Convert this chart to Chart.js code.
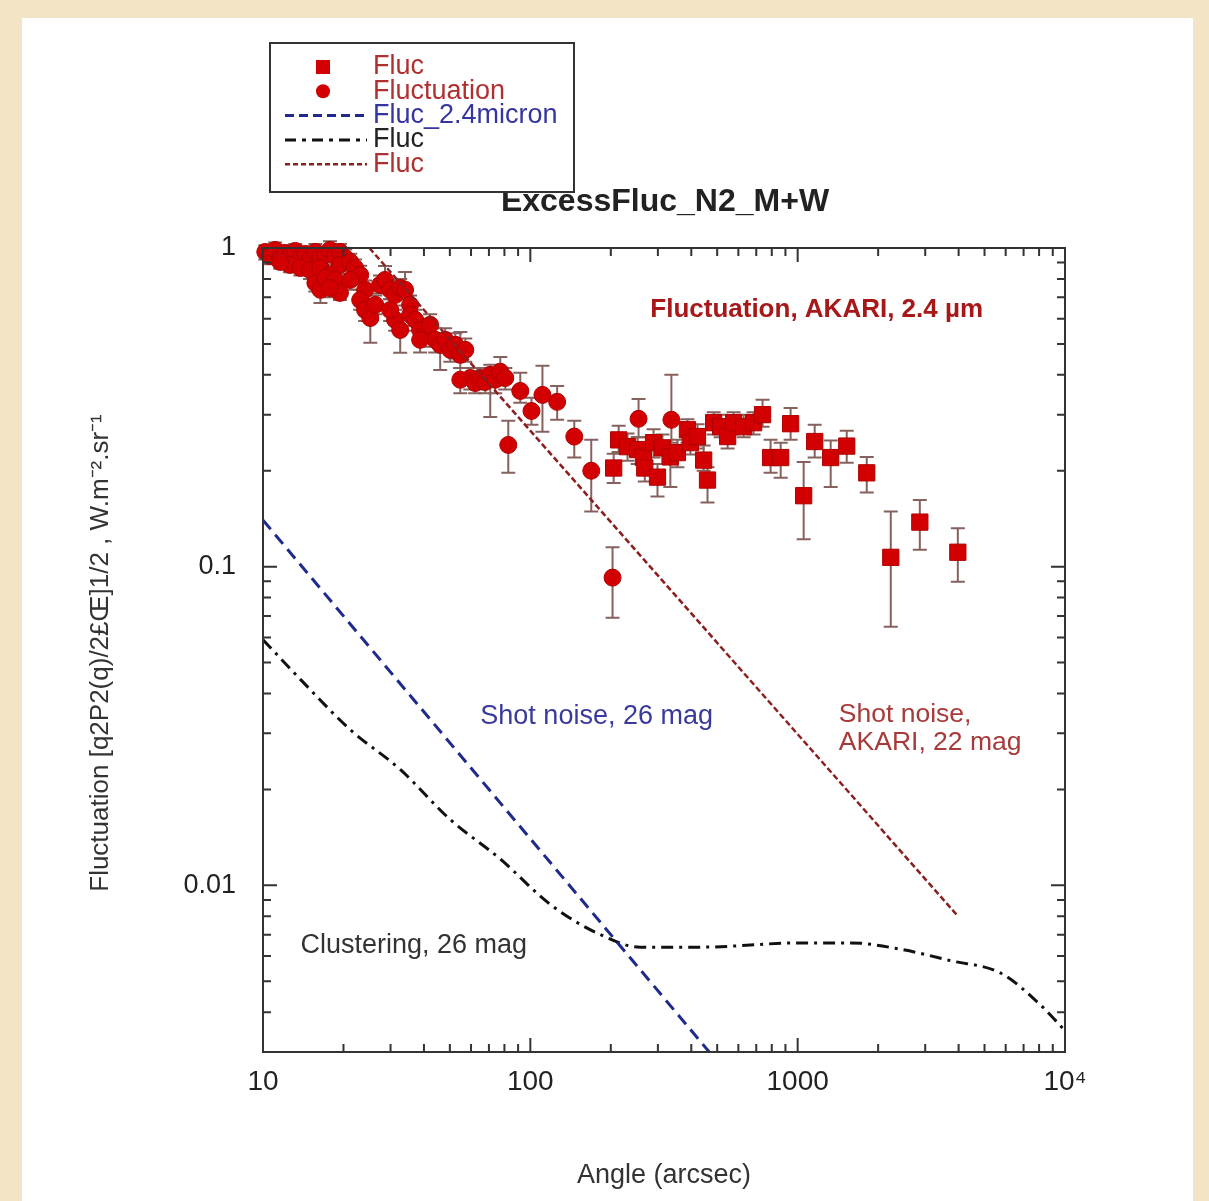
<!DOCTYPE html>
<html>
<head>
<meta charset="utf-8">
<title>ExcessFluc_N2_M+W</title>
<script src="https://cdn.jsdelivr.net/npm/chart.js@4.4.0/dist/chart.umd.min.js"></script>
<style>
  html, body { margin: 0; padding: 0; background: #f4e4c6; }
  #wrap { position: absolute; left: 22px; top: 18px; width: 1171px; height: 1183px; background: #fff; }
</style>
</head>
<body>
<div id="wrap"><canvas id="chart" width="1171" height="1183"></canvas></div>
<script>
// tick positions (log axes)
const xTicks = [10, 20, 30, 40, 50, 60, 70, 80, 90,
    100, 200, 300, 400, 500, 600, 700, 800, 900,
    1000, 2000, 3000, 4000, 5000, 6000, 7000, 8000, 9000, 10000];
const xMajor = [10, 100, 1000, 10000];
const xLabels = ['10', '100', '1000', '10\u2074'];
const yTicks = [0.003, 0.004, 0.005, 0.006, 0.007, 0.008, 0.009,
    0.01, 0.02, 0.03, 0.04, 0.05, 0.06, 0.07, 0.08, 0.09,
    0.1, 0.2, 0.3, 0.4, 0.5, 0.6, 0.7, 0.8, 0.9, 1];
const yMajor = [0.01, 0.1, 1];
const yLabels = ['0.01', '0.1', '1'];

// "Fluctuation" (circles)
const circX = [10.2, 10.6, 11.1, 11.6, 12.1, 12.6, 13.2, 13.8, 14.4, 15.0, 15.7, 16.4, 17.1, 17.8, 18.6, 19.4, 20.3,
    12.6, 13.8, 15.0, 16.4, 17.8, 11.6, 19.4,
    15.7, 16.4, 17.1, 18.6, 19.4, 17.8,
    21.2, 22.1, 23.1, 21.2, 24.1, 23.1, 24.1, 25.2, 26.3,
    27.4, 28.6, 29.9, 31.2, 32.6, 34.0, 31.2, 32.6, 29.9, 35.5,
    35.5, 37.1, 38.7, 40.4, 42.2, 44.1, 46.0, 38.7,
    48.0, 50.2, 52.4, 54.7, 57.1, 59.6, 54.7,
    62.2, 65.0, 67.8, 70.8, 73.9, 77.2, 80.6,
    82.7, 91.7, 101, 111, 126, 146, 169, 203, 254, 337];
const circY = [0.972, 0.944, 0.986, 0.930, 0.965, 0.944, 0.979, 0.930, 0.958, 0.917, 0.972, 0.937, 0.951, 0.986, 0.944, 0.972, 0.930,
    0.885, 0.866, 0.853, 0.866, 0.823, 0.904, 0.885,
    0.777, 0.739, 0.805, 0.794, 0.723, 0.749,
    0.904, 0.866, 0.823, 0.794, 0.739, 0.687, 0.639, 0.603, 0.663,
    0.766, 0.794, 0.739, 0.712, 0.749, 0.739, 0.595, 0.553, 0.639, 0.663,
    0.617, 0.595, 0.553, 0.533, 0.574, 0.515, 0.497, 0.515,
    0.515, 0.479, 0.497, 0.462, 0.479, 0.391, 0.386,
    0.377, 0.391, 0.380, 0.400, 0.386, 0.409, 0.391,
    0.241, 0.356, 0.308, 0.346, 0.329, 0.256, 0.200, 0.0924, 0.291, 0.289];
const circLo = [0.92, 0.89, 0.93, 0.88, 0.91, 0.89, 0.92, 0.87, 0.90, 0.86, 0.91, 0.88, 0.89, 0.92, 0.88, 0.91, 0.87,
    0.84, 0.82, 0.80, 0.81, 0.77, 0.86, 0.83,
    0.73, 0.672, 0.75, 0.74, 0.687, 0.70,
    0.85, 0.81, 0.77, 0.74, 0.69, 0.64, 0.59, 0.504, 0.62,
    0.72, 0.74, 0.69, 0.66, 0.70, 0.69, 0.55, 0.469, 0.59, 0.62,
    0.57, 0.55, 0.51, 0.49, 0.53, 0.47, 0.414, 0.47,
    0.47, 0.44, 0.45, 0.42, 0.44, 0.36, 0.35,
    0.35, 0.36, 0.35, 0.295, 0.35, 0.37, 0.36,
    0.197, 0.327, 0.279, 0.265, 0.289, 0.220, 0.149, 0.0692, 0.255, 0.245];
const circHi = [1.02, 1.0, 1.04, 0.98, 1.02, 1.0, 1.03, 0.98, 1.01, 0.97, 1.03, 0.99, 1.01, 1.05, 1.0, 1.03, 0.99,
    0.93, 0.91, 0.90, 0.92, 0.87, 0.95, 0.94,
    0.83, 0.80, 0.86, 0.85, 0.77, 0.80,
    0.96, 0.92, 0.88, 0.85, 0.79, 0.74, 0.69, 0.66, 0.71,
    0.82, 0.878, 0.79, 0.76, 0.80, 0.841, 0.64, 0.60, 0.69, 0.71,
    0.66, 0.64, 0.60, 0.58, 0.62, 0.56, 0.54, 0.56,
    0.56, 0.52, 0.54, 0.545, 0.52, 0.42, 0.42,
    0.41, 0.42, 0.41, 0.43, 0.42, 0.455, 0.42,
    0.287, 0.406, 0.339, 0.427, 0.369, 0.287, 0.250, 0.115, 0.336, 0.400];

// "Fluc" (squares)
const sqX = [205, 214, 231, 252, 265, 268, 289, 299, 312, 334, 355, 387, 397, 422, 445, 460, 485, 515, 547, 576,
    628, 684, 739, 792, 864, 941, 1053, 1158, 1329, 1526, 1813, 2230, 2864, 3973];
const sqY = [0.204, 0.250, 0.238, 0.233, 0.220, 0.204, 0.245, 0.191, 0.236, 0.221, 0.228, 0.269, 0.245, 0.256, 0.216, 0.187, 0.283, 0.275, 0.256, 0.283,
    0.275, 0.283, 0.300, 0.220, 0.220, 0.281, 0.167, 0.247, 0.220, 0.239, 0.197, 0.107, 0.138, 0.111];
const sqLo = [0.183, 0.229, 0.215, 0.210, 0.200, 0.185, 0.220, 0.166, 0.210, 0.178, 0.205, 0.245, 0.225, 0.235, 0.200, 0.159, 0.260, 0.255, 0.235, 0.260,
    0.255, 0.260, 0.275, 0.197, 0.190, 0.250, 0.122, 0.220, 0.178, 0.212, 0.171, 0.0648, 0.113, 0.0897];
const sqHi = [0.226, 0.277, 0.262, 0.255, 0.240, 0.225, 0.270, 0.210, 0.260, 0.240, 0.250, 0.290, 0.268, 0.280, 0.240, 0.205, 0.305, 0.300, 0.280, 0.305,
    0.300, 0.305, 0.334, 0.250, 0.245, 0.315, 0.213, 0.279, 0.249, 0.267, 0.221, 0.149, 0.162, 0.132];

// model curves
const shot26X = [10, 467];
const shot26Y = [0.14, 0.003];
const clusterX = [10, 13.8, 21.2, 32.6, 50.1, 77.2, 119, 183, 258, 433, 1026, 1580, 2432, 3743, 5760, 8128, 10000];
const clusterY = [0.059, 0.0443, 0.0308, 0.0231, 0.0161, 0.0121, 0.0087, 0.0070, 0.0064, 0.0064, 0.0066, 0.0066, 0.0063, 0.0058, 0.0053, 0.0042, 0.0035];
const shot22X = [25, 3980];
const shot22Y = [1.0, 0.008];

const notes = [
    { text: 'Fluctuation, AKARI, 2.4 \u00b5m', x: 281, y: 0.639, color: '#a81818', bold: true, size: 26 },
    { text: 'Shot noise, 26 mag', x: 65, y: 0.0339, color: '#3a3a9c', size: 27 },
    { text: 'Shot noise,', x: 1426, y: 0.0344, color: '#a83a3a', size: 26.5 },
    { text: 'AKARI, 22 mag', x: 1426, y: 0.0281, color: '#a83a3a', size: 26.5 },
    { text: 'Clustering, 26 mag', x: 13.8, y: 0.00648, color: '#333333', size: 27 }
];

const RED = '#d20000';
const FONT = '"Liberation Sans", Arial, Helvetica, sans-serif';

const pairs = (xs, ys) => xs.map((x, i) => ({ x: x, y: ys[i] }));

const plotDecor = {
    id: 'plotDecor',
    beforeDatasetsDraw(chart) {
        const ctx = chart.ctx;
        const ys = chart.scales.y;
        ctx.save();
        ctx.strokeStyle = '#86625e';
        ctx.lineWidth = 2;
        chart.data.datasets.forEach((ds, di) => {
            if (!ds.errLo) return;
            const meta = chart.getDatasetMeta(di);
            meta.data.forEach((pt, i) => {
                const y0 = ys.getPixelForValue(ds.errLo[i]);
                const y1 = ys.getPixelForValue(ds.errHi[i]);
                ctx.beginPath();
                ctx.moveTo(pt.x, y0); ctx.lineTo(pt.x, y1);
                ctx.moveTo(pt.x - 7, y0); ctx.lineTo(pt.x + 7, y0);
                ctx.moveTo(pt.x - 7, y1); ctx.lineTo(pt.x + 7, y1);
                ctx.stroke();
            });
        });
        ctx.restore();
    },
    afterDraw(chart) {
        const ctx = chart.ctx;
        const { left, right, top, bottom } = chart.chartArea;
        const xs = chart.scales.x, ys = chart.scales.y;
        ctx.save();

        // frame + inward ticks on all four sides
        ctx.strokeStyle = '#333';
        ctx.lineWidth = 2;
        ctx.strokeRect(left, top, right - left, bottom - top);
        ctx.beginPath();
        xTicks.forEach(v => {
            const px = xs.getPixelForValue(v);
            const len = xMajor.includes(v) ? 14 : 8;
            ctx.moveTo(px, bottom); ctx.lineTo(px, bottom - len);
            ctx.moveTo(px, top); ctx.lineTo(px, top + len);
        });
        yTicks.forEach(v => {
            const py = ys.getPixelForValue(v);
            const len = yMajor.includes(v) ? 14 : 8;
            ctx.moveTo(left, py); ctx.lineTo(left + len, py);
            ctx.moveTo(right, py); ctx.lineTo(right - len, py);
        });
        ctx.stroke();

        // annotations
        ctx.textBaseline = 'middle';
        ctx.textAlign = 'left';
        notes.forEach(n => {
            ctx.font = (n.bold ? 'bold ' : '') + n.size + 'px ' + FONT;
            ctx.fillStyle = n.color;
            ctx.fillText(n.text, xs.getPixelForValue(n.x), ys.getPixelForValue(n.y));
        });

        // titles
        const cx = (left + right) / 2;
        ctx.textAlign = 'center';
        ctx.fillStyle = '#222';
        ctx.font = 'bold 32px ' + FONT;
        ctx.fillText('ExcessFluc_N2_M+W', cx + 1, top - 46);
        ctx.fillStyle = '#333';
        ctx.font = '27px ' + FONT;
        ctx.fillText('Angle (arcsec)', cx, bottom + 124);
        ctx.save();
        ctx.translate(79, (top + bottom) / 2 + 3);
        ctx.rotate(-Math.PI / 2);
        ctx.font = '26px ' + FONT;
        ctx.fillText('Fluctuation [q2P2(q)/2\u00a3\u0152]1/2 , W.m\u207b\u00b2.sr\u207b\u00b9', 0, 0);
        ctx.restore();

        // legend box
        const bx = 248, by = 25, bw = 304, bh = 149;
        ctx.fillStyle = '#fff';
        ctx.fillRect(bx, by, bw, bh);
        ctx.strokeStyle = '#333';
        ctx.lineWidth = 2;
        ctx.strokeRect(bx, by, bw, bh);
        const rows = [
            { label: 'Fluc', color: '#b03030', kind: 'square' },
            { label: 'Fluctuation', color: '#b03030', kind: 'circle' },
            { label: 'Fluc_2.4micron', color: '#3535a0', kind: 'line', stroke: '#1f2a8a', dash: [9, 5], width: 3 },
            { label: 'Fluc', color: '#222', kind: 'line', stroke: '#111', dash: [11, 6, 4, 6], width: 3 },
            { label: 'Fluc', color: '#b03030', kind: 'line', stroke: '#8b1f1f', dash: [5, 3], width: 2.5 }
        ];
        ctx.textAlign = 'left';
        ctx.font = '27px ' + FONT;
        rows.forEach((r, i) => {
            const ry = by + 24 + i * 24.3;
            if (r.kind === 'square') {
                ctx.fillStyle = RED;
                ctx.fillRect(301 - 7, ry - 7, 14, 14);
            } else if (r.kind === 'circle') {
                ctx.fillStyle = RED;
                ctx.beginPath(); ctx.arc(301, ry, 7, 0, Math.PI * 2); ctx.fill();
            } else {
                ctx.strokeStyle = r.stroke;
                ctx.lineWidth = r.width;
                ctx.setLineDash(r.dash);
                ctx.beginPath(); ctx.moveTo(263, ry); ctx.lineTo(345, ry); ctx.stroke();
                ctx.setLineDash([]);
            }
            ctx.fillStyle = r.color;
            ctx.fillText(r.label, 351, ry);
        });
        ctx.restore();
    }
};

new Chart(document.getElementById('chart'), {
    type: 'scatter',
    data: {
        datasets: [
            {
                type: 'line', label: 'Fluc_2.4micron', data: pairs(shot26X, shot26Y),
                borderColor: '#1f2a8a', borderWidth: 3, borderDash: [12, 7], pointRadius: 0, order: 0
            },
            {
                type: 'line', label: 'Fluc', data: pairs(clusterX, clusterY),
                borderColor: '#111', borderWidth: 3, borderDash: [12, 6, 3, 6], pointRadius: 0,
                tension: 0.4, cubicInterpolationMode: 'monotone', order: 0
            },
            {
                type: 'line', label: 'Fluc', data: pairs(shot22X, shot22Y),
                borderColor: '#8b1f1f', borderWidth: 2.5, borderDash: [6, 3], pointRadius: 0, order: 0
            },
            {
                label: 'Fluc', data: pairs(sqX, sqY), errLo: sqLo, errHi: sqHi,
                pointStyle: 'rect', pointRadius: 11.5, backgroundColor: RED, borderColor: '#b00000',
                borderWidth: 1, clip: false, order: 1
            },
            {
                label: 'Fluctuation', data: pairs(circX, circY), errLo: circLo, errHi: circHi,
                pointStyle: 'circle', pointRadius: 8.5, backgroundColor: RED, borderColor: '#b00000',
                borderWidth: 1, clip: false, order: 1
            }
        ]
    },
    options: {
        responsive: false,
        animation: false,
        devicePixelRatio: 1,
        layout: { padding: { left: 141, right: 128, top: 230, bottom: 89 } },
        plugins: { legend: { display: false }, tooltip: { enabled: false } },
        scales: {
            x: {
                type: 'logarithmic', min: 10, max: 10000,
                grid: { display: false, drawTicks: false }, border: { display: false },
                afterBuildTicks: (scale) => { scale.ticks = xTicks.map(v => ({ value: v })); },
                afterFit: (scale) => { scale.height = 60; },
                ticks: {
                    autoSkip: false, maxRotation: 0, padding: 13, color: '#222',
                    font: { family: FONT, size: 28 },
                    callback: (v) => { const i = xMajor.indexOf(v); return i >= 0 ? xLabels[i] : ''; }
                }
            },
            y: {
                type: 'logarithmic', min: 0.003, max: 1,
                grid: { display: false, drawTicks: false }, border: { display: false },
                afterBuildTicks: (scale) => { scale.ticks = yTicks.map(v => ({ value: v })); },
                afterFit: (scale) => { scale.width = 100; },
                ticks: {
                    autoSkip: false, padding: 27, color: '#222',
                    font: { family: FONT, size: 27 },
                    callback: (v) => { const i = yMajor.indexOf(v); return i >= 0 ? yLabels[i] : ''; }
                }
            }
        }
    },
    plugins: [plotDecor]
});
</script>
</body>
</html>
